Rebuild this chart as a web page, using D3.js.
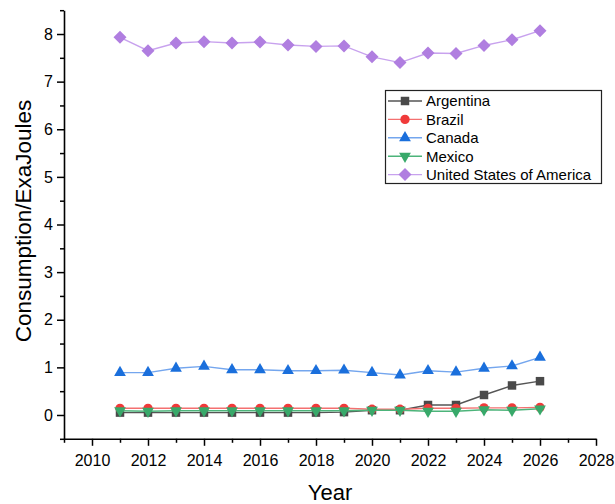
<!DOCTYPE html>
<html>
<head>
<meta charset="utf-8">
<script src="https://cdn.jsdelivr.net/npm/d3@7"></script>
<style>
html, body { margin: 0; padding: 0; background: #fff; }
svg { display: block; font-family: Arial, "Liberation Sans", sans-serif; }
</style>
</head>
<body>
<svg id="chart" width="615" height="504"></svg>
<script>
const years = [2011,2012,2013,2014,2015,2016,2017,2018,2019,2020,2021,2022,2023,2024,2025,2026];
const argentina = [0.05,0.05,0.05,0.05,0.05,0.05,0.05,0.05,0.06,0.10,0.10,0.21,0.21,0.42,0.62,0.71];
const brazil    = [0.14,0.14,0.14,0.14,0.14,0.14,0.14,0.14,0.14,0.12,0.12,0.14,0.14,0.15,0.15,0.16];
const canada    = [0.89,0.89,0.98,1.02,0.95,0.95,0.93,0.93,0.94,0.89,0.84,0.93,0.90,0.98,1.03,1.21];
const mexico    = [0.09,0.08,0.09,0.09,0.09,0.09,0.09,0.09,0.09,0.10,0.10,0.08,0.08,0.11,0.10,0.13];
const usa       = [7.93,7.65,7.81,7.84,7.81,7.83,7.77,7.74,7.75,7.52,7.40,7.60,7.59,7.76,7.88,8.07];
const seriesNames = ["Argentina","Brazil","Canada","Mexico","United States of America"];
const xTickValues = [2010,2012,2014,2016,2018,2020,2022,2024,2026,2028];
const yTickValues = [0,1,2,3,4,5,6,7,8];
const xTitle = "Year";
const yTitle = "Consumption/ExaJoules";

const seriesValues = [argentina, brazil, canada, mexico, usa];
const styles = [
  {marker:"#4a4a4a", line:"#555555", shape:"square"},
  {marker:"#f03a3a", line:"#f47070", shape:"circle"},
  {marker:"#1a6fdc", line:"#74a6ee", shape:"triangle"},
  {marker:"#38a96a", line:"#4cb47a", shape:"triangleDown"},
  {marker:"#b07ee0", line:"#c8a2ee", shape:"diamond"}
];

const svg = d3.select("#chart");
const x = d3.scaleLinear().domain([2009, 2028]).range([64, 596]);
const y = d3.scaleLinear().domain([-0.5, 8.5]).range([438.8, 10.2]);

// axes
const xAxisG = svg.append("g").attr("transform", `translate(0,${y(-0.5)})`);
xAxisG.call(d3.axisBottom(x).tickValues(xTickValues).tickFormat(d3.format("d")).tickSize(7).tickSizeOuter(0));
const xMinor = svg.append("g").attr("transform", `translate(0,${y(-0.5)})`);
xMinor.call(d3.axisBottom(x).tickValues(d3.range(2009, 2028, 2)).tickFormat("").tickSize(4).tickSizeOuter(0));
xMinor.select(".domain").remove();

const yAxisG = svg.append("g").attr("transform", `translate(${x(2009)},0)`);
yAxisG.call(d3.axisLeft(y).tickValues(yTickValues).tickFormat(d3.format("d")).tickSize(7).tickSizeOuter(0));
const yMinor = svg.append("g").attr("transform", `translate(${x(2009)},0)`);
yMinor.call(d3.axisLeft(y).tickValues(d3.range(-0.5, 9, 1)).tickFormat("").tickSize(4).tickSizeOuter(0));
yMinor.select(".domain").remove();

svg.selectAll(".domain").attr("stroke", "#000").attr("stroke-width", 1.6);
svg.selectAll(".tick line").attr("stroke", "#000").attr("stroke-width", 1.5);
xAxisG.selectAll(".tick text").attr("font-size", 16).attr("fill", "#000").attr("font-family", "Arial, 'Liberation Sans', sans-serif").attr("dy", "1.05em");
yAxisG.selectAll(".tick text").attr("font-size", 16).attr("fill", "#000").attr("font-family", "Arial, 'Liberation Sans', sans-serif").attr("x", -11);

// titles
svg.append("text").attr("x", 330).attr("y", 500).attr("text-anchor", "middle")
  .attr("font-size", 22).attr("fill", "#000").text(xTitle);
svg.append("text").attr("transform", "translate(31,221) rotate(-90)").attr("text-anchor", "middle")
  .attr("font-size", 22.5).attr("fill", "#000").text(yTitle);

function symbolPath(shape) {
  switch (shape) {
    case "square": return d3.symbol().type(d3.symbolSquare).size(72)();
    case "circle": return d3.symbol().type(d3.symbolCircle).size(68)();
    case "triangle": return d3.symbol().type(d3.symbolTriangle).size(60)();
    case "triangleDown": return d3.symbol().type(d3.symbolTriangle).size(60)();
    case "diamond": return "M0,-6.5L6.5,0L0,6.5L-6.5,0Z";
  }
}

const line = d3.line().x(d => x(d[0])).y(d => y(d[1]));

seriesValues.forEach((vals, i) => {
  const st = styles[i];
  const pts = years.map((yr, j) => [yr, vals[j]]);
  const g = svg.append("g");
  g.append("path").datum(pts).attr("d", line).attr("fill", "none")
    .attr("stroke", st.line).attr("stroke-width", 1.4);
  g.selectAll("path.m").data(pts).enter().append("path").attr("class", "m")
    .attr("d", symbolPath(st.shape))
    .attr("transform", d => `translate(${x(d[0])},${y(d[1])})` + (st.shape === "triangleDown" ? " rotate(180)" : ""))
    .attr("fill", st.marker);
});

// legend
const lg = svg.append("g");
lg.append("rect").attr("x", 385.5).attr("y", 90.5).attr("width", 216).attr("height", 93)
  .attr("fill", "#fff").attr("stroke", "#222").attr("stroke-width", 1.2);
seriesNames.forEach((name, i) => {
  const st = styles[i];
  const cy = 101 + i * 18.4;
  lg.append("line").attr("x1", 388).attr("x2", 422).attr("y1", cy).attr("y2", cy)
    .attr("stroke", st.line).attr("stroke-width", 1.4);
  lg.append("path").attr("d", symbolPath(st.shape))
    .attr("transform", `translate(405,${cy})` + (st.shape === "triangleDown" ? " rotate(180)" : ""))
    .attr("fill", st.marker);
  lg.append("text").attr("x", 426).attr("y", cy).attr("dy", "0.36em")
    .attr("font-size", 15).attr("fill", "#000").text(name);
});
</script>
</body>
</html>
